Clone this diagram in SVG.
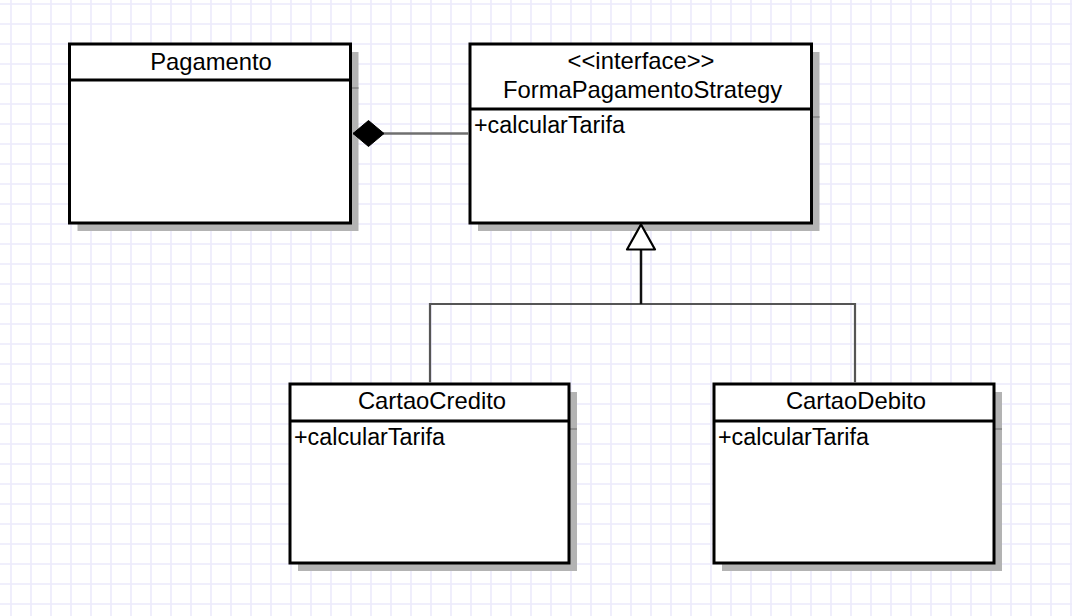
<svg xmlns="http://www.w3.org/2000/svg" width="1072" height="616" viewBox="0 0 1072 616">
  <defs>
    <pattern id="grid" patternUnits="userSpaceOnUse" x="1" y="-6" width="20" height="20">
      <path d="M0 10H20M10 0V20" stroke="#eceafb" stroke-width="1.6" fill="none"/>
    </pattern>
    <marker id="diamond" markerUnits="userSpaceOnUse" viewBox="-34 -15 36 30" refX="0" refY="0" markerWidth="36" markerHeight="30" orient="auto" overflow="visible">
      <path d="M0,0 L-15.5,-13 L-31,0 L-15.5,13 Z" fill="#000" stroke="#000" stroke-width="1"/>
    </marker>
    <marker id="triangle" markerUnits="userSpaceOnUse" viewBox="-28 -16 30 32" refX="0" refY="0" markerWidth="30" markerHeight="32" orient="auto" overflow="visible">
      <path d="M0,0 L-25,-14 L-25,14 Z" fill="#fff" stroke="#000" stroke-width="2.2" stroke-linejoin="round"/>
    </marker>
  </defs>
  <style>
    .shadow { fill: #b3b3b3; }
    .shline { stroke: #8f8f8f; stroke-width: 2; }
    .box { fill: #fff; stroke: #000; stroke-width: 3; }
    .div { stroke: #000; stroke-width: 3; }
    .title { font-family: "Liberation Sans", Arial, sans-serif; font-size: 23.8px; fill: #000; text-anchor: middle; }
    .member { font-family: "Liberation Sans", Arial, sans-serif; font-size: 23.3px; fill: #000; }
    .assoc { stroke: #6f6f6f; stroke-width: 2.5; fill: none; }
    .gen { stroke: #555; stroke-width: 2.2; fill: none; }
    .stem { stroke: #111; stroke-width: 2.5; fill: none; }
  </style>
  <rect width="1072" height="616" fill="#fff"/>
  <rect width="1072" height="616" fill="url(#grid)"/>

  <g id="Pagamento">
    <rect class="shadow" x="77.5" y="52" width="281" height="179"/>
    <line class="shline" x1="350" y1="88" x2="358.5" y2="88"/>
    <rect class="box" x="69.5" y="44" width="281" height="179"/>
    <line class="div" x1="69.5" y1="80" x2="350.5" y2="80"/>
    <text class="title" x="211" y="70">Pagamento</text>
  </g>

  <g id="FormaPagamentoStrategy">
    <rect class="shadow" x="478" y="52" width="341.5" height="179"/>
    <line class="shline" x1="811" y1="117" x2="819.5" y2="117"/>
    <rect class="box" x="470" y="44" width="341.5" height="179"/>
    <line class="div" x1="470" y1="109" x2="811.5" y2="109"/>
    <text class="title" x="641" y="69">&lt;&lt;interface&gt;&gt;</text>
    <text class="title" x="642.5" y="98">FormaPagamentoStrategy</text>
    <text class="member" x="474" y="133">+calcularTarifa</text>
  </g>

  <g id="CartaoCredito">
    <rect class="shadow" x="298" y="392" width="279" height="179"/>
    <line class="shline" x1="569" y1="429" x2="577" y2="429"/>
    <rect class="box" x="290" y="384" width="279" height="179"/>
    <line class="div" x1="290" y1="421" x2="569" y2="421"/>
    <text class="title" x="432" y="409">CartaoCredito</text>
    <text class="member" x="294" y="445">+calcularTarifa</text>
  </g>

  <g id="CartaoDebito">
    <rect class="shadow" x="722" y="392" width="280" height="179"/>
    <line class="shline" x1="994" y1="429" x2="1002" y2="429"/>
    <rect class="box" x="714" y="384" width="280" height="179"/>
    <line class="div" x1="714" y1="421" x2="994" y2="421"/>
    <text class="title" x="856" y="409">CartaoDebito</text>
    <text class="member" x="718" y="445">+calcularTarifa</text>
  </g>

  <g id="connectors">
    <path class="assoc" d="M468.5,133.5 H353" marker-end="url(#diamond)"/>
    <path class="gen" d="M430,382.5 V304 H855 V382.5"/>
    <path class="stem" d="M641,304 V224.5" marker-end="url(#triangle)"/>
  </g>
</svg>
